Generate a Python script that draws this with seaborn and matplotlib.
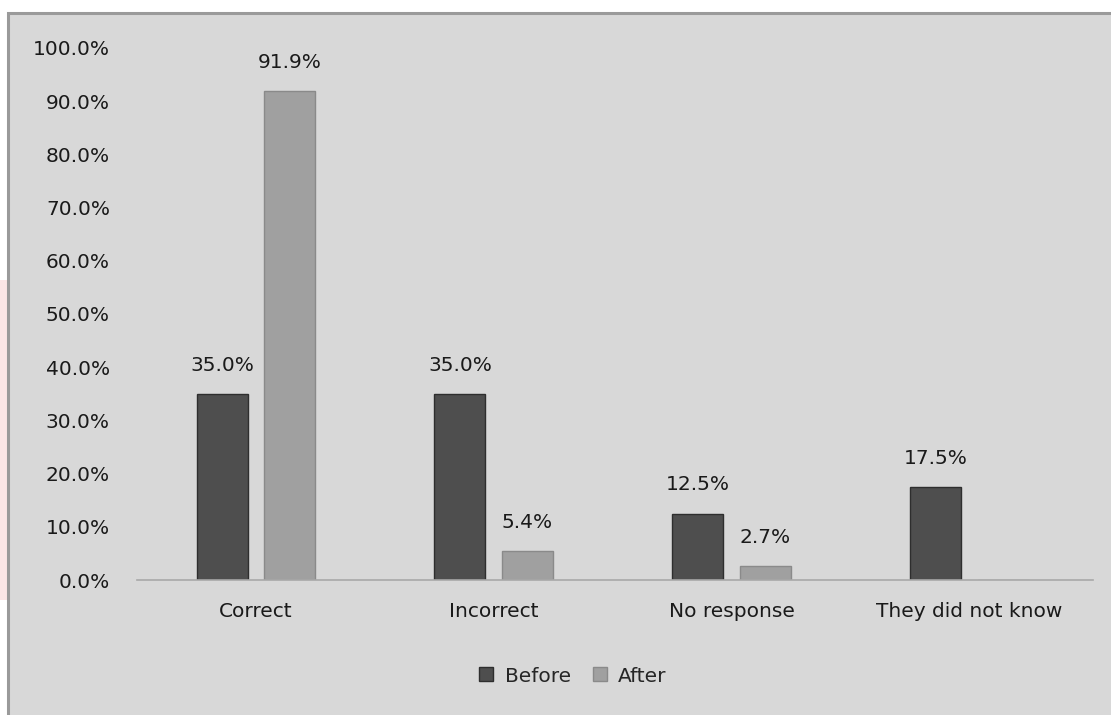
import matplotlib
matplotlib.use("Agg")
import matplotlib.pyplot as plt
from matplotlib.patches import Rectangle
from matplotlib.lines import Line2D
from matplotlib.ticker import FuncFormatter, MultipleLocator
import seaborn as sns
import pandas as pd

categories = ["Correct", "Incorrect", "No response", "They did not know"]
before = [35.0, 35.0, 12.5, 17.5]
after = [91.9, 5.4, 2.7, 0.0]
series = ["Before", "After"]
colors = {"Before": "#4e4e4e", "After": "#a0a0a0"}
edges = {"Before": "#2e2e2e", "After": "#8a8a8a"}

df = pd.DataFrame({
    "category": categories * 2,
    "value": before + after,
    "series": ["Before"] * len(categories) + ["After"] * len(categories),
})

sns.set_style("white")
plt.rcParams["font.family"] = ["DejaVu Sans"]
FS = 14.5

W, H = 1111, 715
fig = plt.figure(figsize=(W / 100, H / 100), dpi=100, facecolor="white")

# faint pink mark in the left margin
fig.patches.append(Rectangle((0, 1 - 600 / H), 7 / W, 320 / H, transform=fig.transFigure,
                             facecolor="#fbe6e6", edgecolor="none", zorder=-11))

# chart frame panel, kept behind the axes
frame = Rectangle((8 / W, -0.01), 1.2, 1 - 13 / H + 0.01, transform=fig.transFigure,
                  facecolor="#d8d8d8", edgecolor="#9a9a9a", linewidth=2.2, zorder=-10)
fig.patches.append(frame)

ax = fig.add_axes([137 / W, 1 - 580 / H, 956 / W, 532 / H])
ax.set_facecolor("none")
ax.set_zorder(1)

sns.barplot(data=df, x="category", y="value", hue="series", hue_order=series,
            order=categories, palette=colors, width=0.568, gap=0.245,
            ax=ax, legend=False, saturation=1)

for container, s in zip(ax.containers, series):
    for bar in container:
        bar.set_edgecolor(edges[s])
        bar.set_linewidth(1.0)

for container, s in zip(ax.containers, series):
    vals = before if s == "Before" else after
    for bar, v in zip(container, vals):
        if v == 0:
            continue
        ax.annotate(f"{v:.1f}%", (bar.get_x() + bar.get_width() / 2, v),
                    xytext=(0, 19), textcoords="offset pixels",
                    ha="center", va="bottom", fontsize=FS, color="#1a1a1a")

ax.set_ylim(0, 100)
ax.set_xlim(-0.5, 3.52)
ax.yaxis.set_major_locator(MultipleLocator(10))
ax.yaxis.set_major_formatter(FuncFormatter(lambda v, p: f"{v:.1f}%"))
ax.set_xlabel("")
ax.set_ylabel("")
ax.tick_params(axis="y", length=0, pad=19.5, labelsize=FS, labelcolor="#1a1a1a")
ax.tick_params(axis="x", length=0, pad=16, labelsize=FS, labelcolor="#1a1a1a")

for side in ["top", "right", "left"]:
    ax.spines[side].set_visible(False)
ax.spines["bottom"].set_color("#a8a8a8")
ax.spines["bottom"].set_linewidth(1.2)

handles = [Line2D([0], [0], marker="s", linestyle="none", markersize=9.5,
                  markerfacecolor=colors[s], markeredgecolor=edges[s], label=s)
           for s in series]
fig.legend(handles=handles, loc="center", bbox_to_anchor=(572 / W, 1 - 676 / H),
           ncol=2, frameon=False, fontsize=FS, handletextpad=0.45,
           columnspacing=1.0, handlelength=0.9)

fig.savefig("out.png", dpi=100, facecolor="white")
